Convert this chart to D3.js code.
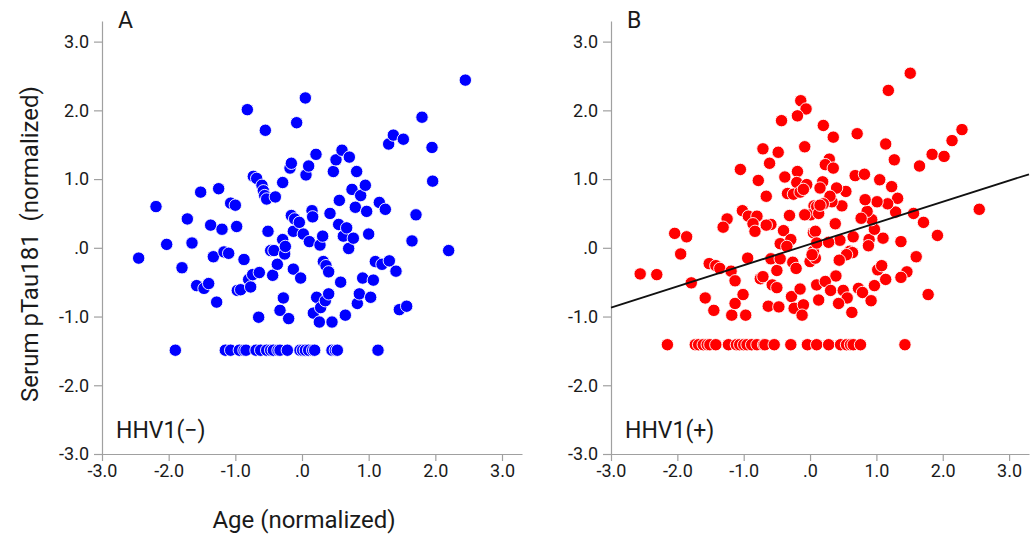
<!DOCTYPE html>
<html>
<head>
<meta charset="utf-8">
<script src="https://cdn.jsdelivr.net/npm/d3@7/dist/d3.min.js"></script>
<style>
  html, body { margin: 0; padding: 0; background: #fff; }
  svg { display: block; }
</style>
</head>
<body>
<svg id="main-svg" width="1036" height="534"></svg>
<script>
// panel A: HHV1(-), age vs serum pTau181 (both normalized)
var ageNeg = [-2.45,-2.19,-2.03,-1.90,-1.80,-1.72,-1.65,-1.58,-1.52,-1.47,-1.40,-1.37,-1.33,-1.28,-1.25,-1.20,-1.17,-1.10,-1.07,-1.00,
  -0.98,-0.97,-0.92,-0.87,-0.82,-0.80,-0.77,-0.74,-0.73,-0.68,-0.65,-0.64,-0.60,-0.58,-0.56,-0.55,-0.53,-0.51,-0.47,-0.44,
  -0.42,-0.40,-0.37,-0.33,-0.29,-0.29,-0.28,-0.26,-0.25,-0.20,-0.18,-0.16,-0.16,-0.13,-0.13,-0.11,-0.08,-0.04,-0.02,0.02,
  0.05,0.06,0.10,0.11,0.15,0.16,0.17,0.21,0.22,0.26,0.27,0.28,0.31,0.32,0.35,0.36,0.40,0.40,0.42,0.45,
  0.47,0.51,0.55,0.56,0.58,0.60,0.62,0.65,0.67,0.70,0.71,0.75,0.77,0.80,0.82,0.83,0.86,0.88,0.91,0.95,
  0.97,1.00,1.03,1.07,1.10,1.16,1.20,1.25,1.30,1.31,1.37,1.41,1.46,1.52,1.57,1.65,1.71,1.80,1.95,1.96,
  2.20,2.45,
  -1.15,-1.07,-0.94,-0.87,-0.84,-0.69,-0.62,-0.53,-0.47,-0.43,-0.36,-0.33,-0.22,-0.03,0.01,0.05,0.10,0.16,0.19,0.45,
  0.50,0.53,1.14];
var tauNeg = [-0.15,0.60,0.05,-1.49,-0.29,0.42,0.07,-0.55,0.81,-0.59,-0.52,0.33,-0.13,-0.79,0.86,0.27,-0.06,-0.08,0.65,0.62,
  0.31,-0.62,-0.61,-0.17,2.01,-0.46,-0.57,-0.39,1.04,1.01,-1.01,-0.36,0.91,0.83,0.76,1.71,0.71,0.24,-0.04,-0.40,
  -0.04,0.74,-0.24,-0.91,0.95,0.12,-0.73,-0.09,0.02,-1.03,1.16,1.23,0.47,0.24,-0.31,0.42,1.82,0.37,-0.44,0.20,
  2.18,1.06,1.19,0.09,0.54,0.45,-0.95,1.36,-0.72,-1.08,0.04,-0.87,0.17,-0.20,-0.77,-0.26,-0.35,-0.67,0.50,-1.08,
  1.11,1.28,0.34,0.69,-0.50,1.42,0.17,-0.98,0.29,-0.01,1.32,0.85,0.14,0.59,1.11,-0.81,-0.67,0.76,-0.44,0.91,
  0.53,0.20,-0.72,-0.47,-0.20,0.66,-0.24,0.56,1.51,-0.19,1.64,-0.34,-0.90,1.58,-0.85,0.10,0.48,1.90,1.46,0.97,
  -0.04,2.44,
  -1.49,-1.49,-1.49,-1.49,-1.49,-1.49,-1.49,-1.49,-1.49,-1.49,-1.49,-1.49,-1.49,-1.49,-1.49,-1.49,-1.49,-1.49,-1.49,-1.49,
  -1.49,-1.49,-1.49];

// panel B: HHV1(+)
var agePos = [-0.14,-0.06,-0.19,-0.43,-0.08,-0.71,-0.48,-0.61,-1.05,-0.19,-0.38,-0.78,-0.20,-0.05,-0.34,-0.25,-0.15,-0.10,-0.66,0.06,
  -1.02,-0.93,-0.80,-0.31,0.01,-1.25,-1.31,-0.86,-0.83,-0.59,-0.66,-0.40,0.05,-0.29,-0.45,-2.04,-1.86,-1.95,
  -2.56,-2.31,-1.79,-1.52,-1.42,-1.36,-1.58,-1.45,-1.18,-0.97,-1.13,-1.01,-1.19,-1.13,-0.94,-0.75,-0.71,-0.63,-0.47,-0.59,
  -0.50,-0.57,-0.50,-0.45,-0.35,-0.26,-0.21,-0.28,-0.15,-0.24,-0.10,-0.12,0.00,0.08,0.05,0.10,0.13,0.08,0.10,0.10,
  2.55,1.56,1.71,1.92,1.37,1.29,1.60,1.46,1.37,1.78,1.10,0.89,0.88,0.97,0.93,0.86,0.77,0.65,0.45,0.28,
  0.38,0.13,0.48,0.60,0.64,0.55,0.44,0.03,0.39,0.23,0.31,0.50,0.56,0.43,0.63,0.73,0.79,0.92,0.97,1.02,
  1.08,1.14,-0.08,
  1.51,1.18,2.29,2.14,1.84,2.02,1.65,1.14,1.27,0.71,0.20,0.35,0.29,0.23,0.35,0.68,0.82,1.05,1.23,1.32,
  1.17,1.01,0.83,0.54,0.40,0.33,0.30,0.20,0.19,0.15,0.15,
  -2.15,-1.73,-1.68,-1.61,-1.55,-1.51,-1.42,-1.23,-1.11,-1.06,-1.00,-0.95,-0.88,-0.80,-0.70,-0.68,-0.54,-0.29,-0.04,0.10,
  0.28,0.46,0.55,0.61,0.65,0.76,1.43];
var tauPos = [2.14,2.02,1.92,1.85,1.47,1.44,1.39,1.23,1.14,1.11,1.03,0.98,0.95,0.92,0.79,0.78,0.81,0.85,0.75,0.61,
  0.54,0.46,0.46,0.47,0.48,0.42,0.30,0.35,0.24,0.34,0.33,0.25,0.22,0.12,0.06,0.21,0.16,-0.09,
  -0.38,-0.39,-0.51,-0.23,-0.26,-0.30,-0.73,-0.91,-0.98,-0.98,-0.81,-0.68,-0.34,-0.48,-0.15,-0.45,-0.42,-0.85,-0.86,-0.16,
  -0.33,-0.54,-0.58,-0.16,0.02,-0.21,-0.30,-0.71,-0.60,-0.88,-0.83,-0.98,-0.20,-0.15,-0.05,-0.54,-0.76,0.24,0.07,0.60,
  0.56,0.50,0.37,0.18,0.09,0.52,-0.13,-0.35,-0.43,-0.68,0.14,0.12,0.03,0.27,0.41,0.53,0.43,0.16,0.11,0.08,
  0.35,0.50,0.61,-0.05,-0.07,-0.10,-0.18,-0.10,-0.41,-0.49,-0.62,-0.62,-0.73,-0.81,-0.94,-0.59,-0.65,-0.77,-0.55,-0.32,
  -0.26,-0.46,0.48,
  2.54,2.29,1.72,1.56,1.36,1.33,1.19,1.51,1.28,1.66,1.78,1.61,1.29,1.21,1.16,1.05,1.07,0.99,0.89,0.72,
  0.64,0.67,0.70,0.82,0.87,0.67,0.75,0.64,0.96,0.87,0.62,
  -1.41,-1.41,-1.41,-1.41,-1.41,-1.41,-1.41,-1.41,-1.41,-1.41,-1.41,-1.41,-1.41,-1.41,-1.41,-1.41,-1.41,-1.41,-1.41,-1.41,
  -1.41,-1.41,-1.41,-1.41,-1.41,-1.41,-1.41];

// fitted line in panel B (end points)
var fitAge = [-3.0, 3.3];
var fitTau = [-0.87, 1.07];

var tickValues = [-3, -2, -1, 0, 1, 2, 3];
var axisDomain = [-3, 3.3];

var fontFamily = "Roboto, 'Noto Sans', Arial, sans-serif";
var textColor = "#1a1a1a";
var axisColor = "#a0a0a0";

var svg = d3.select("#main-svg");

function fmt(d) {
    return d === 0 ? ".0" : d.toFixed(1);
}

function drawPanel(opts) {
    var xScale = d3.scaleLinear().domain(axisDomain).range([opts.left, opts.right]);
    var yScale = d3.scaleLinear().domain(axisDomain).range([454, 21]);

    var g = svg.append("g");

    // x axis
    var xAxis = g.append("g")
        .attr("transform", "translate(0,454)")
        .call(d3.axisBottom(xScale).tickValues(tickValues).tickFormat(fmt).tickSize(7).tickSizeOuter(0).tickPadding(3));

    // y axis
    var yAxis = g.append("g")
        .attr("transform", `translate(${opts.left},0)`)
        .call(d3.axisLeft(yScale).tickValues(tickValues).tickFormat(fmt).tickSize(8).tickSizeOuter(0).tickPadding(5));

    [xAxis, yAxis].forEach(a => {
        a.select(".domain").attr("stroke", axisColor).attr("stroke-width", 1.2);
        a.selectAll(".tick line").attr("stroke", axisColor).attr("stroke-width", 1.2);
        a.selectAll(".tick text")
            .attr("fill", textColor)
            .attr("font-size", "18px")
            .attr("font-family", fontFamily);
    });

    // points
    var pts = opts.ages.map((a, i) => ({ x: a, y: opts.taus[i] }));
    g.selectAll("circle")
        .data(pts)
        .enter()
        .append("circle")
        .attr("cx", d => xScale(d.x))
        .attr("cy", d => yScale(d.y))
        .attr("r", 6.2)
        .attr("fill", opts.color)
        .attr("stroke", "#ffffff")
        .attr("stroke-width", 0.9);

    if (opts.fit) {
        var line = d3.line()
            .x(d => xScale(d[0]))
            .y(d => yScale(d[1]));
        g.append("path")
            .datum(opts.fit[0].map((a, i) => [a, opts.fit[1][i]]))
            .attr("fill", "none")
            .attr("stroke", "#111")
            .attr("stroke-width", 1.8)
            .attr("d", line);
    }

    // panel letter
    g.append("text")
        .attr("x", opts.left + 16)
        .attr("y", 28)
        .attr("font-size", "23px")
        .attr("font-family", fontFamily)
        .attr("fill", textColor)
        .text(opts.letter);

    // group label
    g.append("text")
        .attr("x", opts.left + 14)
        .attr("y", 438)
        .attr("font-size", "23px")
        .attr("font-family", fontFamily)
        .attr("fill", textColor)
        .text(opts.group);

    return xScale;
}

var xA = drawPanel({ left: 102, right: 522, ages: ageNeg, taus: tauNeg, color: "#0000ff", letter: "A", group: "HHV1(\u2212)" });
drawPanel({ left: 611, right: 1029, ages: agePos, taus: tauPos, color: "#ff0000", letter: "B", group: "HHV1(+)", fit: [fitAge, fitTau] });

// axis titles
svg.append("text")
    .attr("x", xA(0) + 2)
    .attr("y", 528)
    .attr("text-anchor", "middle")
    .attr("font-size", "24px")
    .attr("font-family", fontFamily)
    .attr("fill", textColor)
    .text("Age (normalized)");

svg.append("text")
    .attr("transform", "translate(38,244) rotate(-90)")
    .attr("text-anchor", "middle")
    .attr("font-size", "24px")
    .attr("font-family", fontFamily)
    .attr("fill", textColor)
    .style("white-space", "pre")
    .text("Serum pTau181  (normalized)");
</script>
</body>
</html>
